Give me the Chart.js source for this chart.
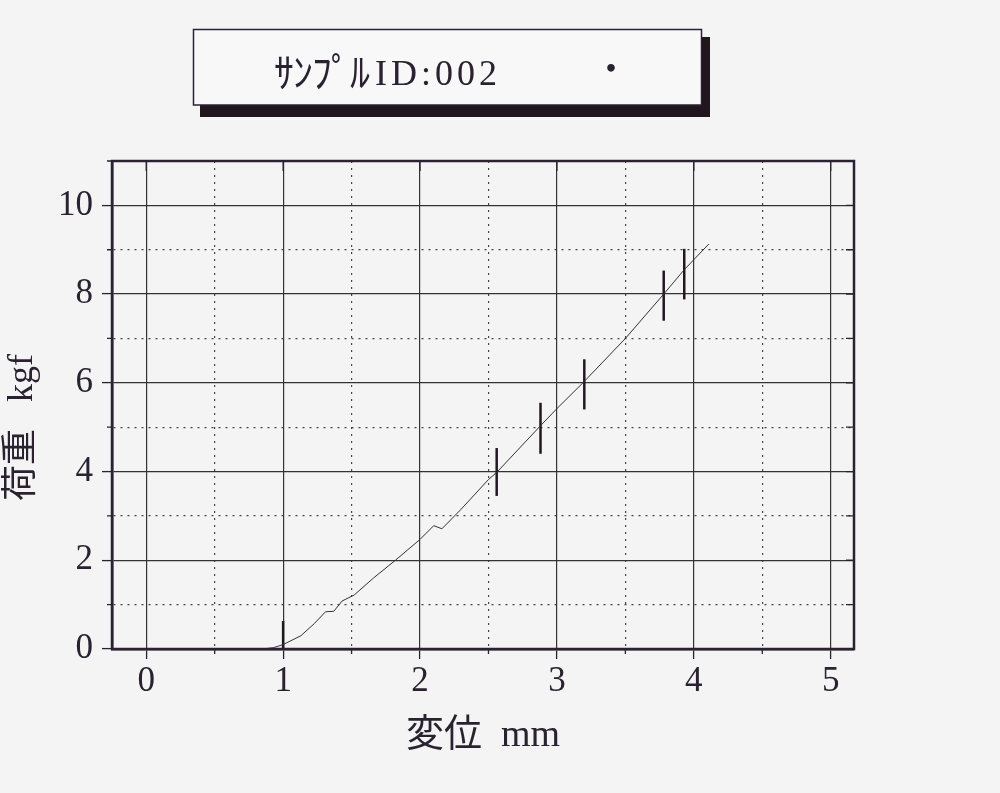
<!DOCTYPE html>
<html>
<head>
<meta charset="utf-8">
<script src="https://cdn.jsdelivr.net/npm/chart.js@4.4.0/dist/chart.umd.min.js"></script>
<style>
html,body{margin:0;padding:0;background:#f4f4f4;}
#wrap{width:1000px;height:793px;position:relative;}
</style>
</head>
<body>
<div id="wrap"><canvas id="c"></canvas></div>
<script>
// ---- text ----
const titleLabel = "ｻﾝﾌﾟﾙ";
const titleId = "ID:002";
const titleMark = "・";
const xAxisTitle = "変位  mm";
const yAxisTitle = "荷重   kgf     ";

// ---- load–displacement curve ----
const curveX = [0, 0.85, 0.93, 1.00, 1.13, 1.23, 1.31, 1.37, 1.43, 1.52, 1.66, 1.82, 2.00, 2.10, 2.16, 2.30, 2.50, 2.56, 2.87, 3.00, 3.19, 3.50, 3.78, 3.93, 4.11];
const curveY = [0, 0.00, 0.03, 0.10, 0.30, 0.58, 0.84, 0.85, 1.08, 1.22, 1.60, 2.00, 2.47, 2.78, 2.71, 3.15, 3.82, 3.98, 5.00, 5.42, 6.00, 7.00, 8.00, 8.55, 9.13];

// ---- vertical marker bars ----
const markerX    = [1.00, 2.56, 2.88, 3.20, 3.78, 3.93];
const markerLow  = [0.00, 3.45, 4.40, 5.40, 7.40, 7.88];
const markerHigh = [0.63, 4.53, 5.55, 6.53, 8.53, 9.02];

const ink = '#2a2230';
const gridInk = '#333333';
const isMajorX = v => Math.abs(v - Math.round(v)) < 1e-6;
const isMajorY = v => Math.abs(v / 2 - Math.round(v / 2)) < 1e-6;

const bgPlugin = {
  id: 'bg',
  beforeDraw(chart) {
    const c = chart.ctx;
    c.save();
    c.fillStyle = '#f4f4f4';
    c.fillRect(0, 0, chart.width, chart.height);
    c.restore();
  }
};

const titleBoxPlugin = {
  id: 'titleBox',
  afterDraw(chart) {
    const c = chart.ctx;
    c.save();
    // shadow
    c.fillStyle = '#22161e';
    c.fillRect(701, 37, 9, 80);
    c.fillRect(200, 105, 510, 12);
    // box
    c.fillStyle = '#f8f8f8';
    c.fillRect(193, 29, 509, 76);
    c.strokeStyle = ink;
    c.lineWidth = 1.5;
    c.strokeRect(193.5, 29.5, 508, 75.5);
    // text
    c.fillStyle = ink;
    c.textBaseline = 'alphabetic';
    c.textAlign = 'left';
    c.font = '40px "Noto Sans CJK JP", sans-serif';
    let x = 274;
    for (const ch of titleLabel) {
      c.fillText(ch, x, 87);
      x += c.measureText(ch).width - 1;
    }
    c.font = '36px "Liberation Serif", serif';
    x = 375;
    for (const ch of titleId) {
      c.fillText(ch, x, 85);
      x += c.measureText(ch).width + 4;
    }
    c.font = '36px "Noto Sans CJK JP", sans-serif';
    c.textAlign = 'center';
    c.textBaseline = 'middle';
    c.fillText(titleMark, 611, 68);
    c.restore();
  }
};

const framePlugin = {
  id: 'frame',
  afterDatasetsDraw(chart) {
    const c = chart.ctx;
    const a = chart.chartArea;
    const xs = chart.scales.x, ys = chart.scales.y;
    c.save();
    c.strokeStyle = ink;
    c.lineWidth = 1.3;
    c.beginPath();
    xs.ticks.forEach(t => {
      const px = xs.getPixelForValue(t.value);
      if (isMajorX(t.value)) {
        c.moveTo(px, a.top); c.lineTo(px, a.top + 10);
      } else {
        c.moveTo(px, a.bottom); c.lineTo(px, a.bottom + 5);
      }
    });
    ys.ticks.forEach(t => {
      const py = ys.getPixelForValue(t.value);
      c.moveTo(a.right, py); c.lineTo(a.right - 8, py);
      if (!isMajorY(t.value)) { c.moveTo(a.left, py); c.lineTo(a.left - 5, py); }
    });
    c.stroke();
    c.lineWidth = 2.5;
    c.strokeRect(a.left, a.top, a.right - a.left, a.bottom - a.top);
    c.restore();
  }
};

const datasets = [{
  data: curveX.map((x, i) => ({x: x, y: curveY[i]})),
  showLine: true, borderColor: '#333333', borderWidth: 1, pointRadius: 0, tension: 0
}].concat(markerX.map((x, i) => ({
  data: [{x: x, y: markerLow[i]}, {x: x, y: markerHigh[i]}],
  showLine: true, borderColor: '#201820', borderWidth: 2.5, pointRadius: 0, tension: 0
})));

const serif = '"Liberation Serif", "Noto Sans CJK JP", serif';

new Chart(document.getElementById('c'), {
  type: 'scatter',
  data: { datasets: datasets },
  options: {
    responsive: true,
    maintainAspectRatio: false,
    animation: false,
    layout: { padding: { top: 161, right: 146, left: 0, bottom: 0 } },
    plugins: { legend: { display: false }, tooltip: { enabled: false } },
    scales: {
      x: {
        type: 'linear', min: -0.25, max: 5.17,
        afterFit: s => { s.height = 144; },
        ticks: {
          stepSize: 0.5, includeBounds: false, autoSkip: false, maxRotation: 0, padding: 2,
          color: ink, font: { family: serif, size: 35 },
          callback: v => isMajorX(v) ? String(Math.round(v)) : ''
        },
        grid: {
          color: ctx => (ctx.tick && isMajorX(ctx.tick.value)) ? gridInk : '#444444',
          lineWidth: 1.2, tickLength: 10,
          tickColor: ctx => (ctx.tick && isMajorX(ctx.tick.value)) ? ink : 'rgba(0,0,0,0)', tickWidth: 1.3
        },
        border: { display: true, color: ink, width: 2.5,
          dash: ctx => (ctx.tick && !isMajorX(ctx.tick.value)) ? [2, 5] : [] },
        title: { display: true, text: xAxisTitle, color: ink,
          font: { family: serif, size: 38 }, padding: { top: 0, bottom: 34 } }
      },
      y: {
        type: 'linear', min: 0, max: 11,
        afterFit: s => { s.width = 112; },
        ticks: {
          stepSize: 1, includeBounds: false, autoSkip: false, padding: 9,
          color: ink, font: { family: serif, size: 35 },
          callback: v => isMajorY(v) ? String(Math.round(v)) : ''
        },
        grid: {
          color: ctx => (ctx.tick && isMajorY(ctx.tick.value)) ? gridInk : '#444444',
          lineWidth: 1.2, tickLength: 10,
          tickColor: ctx => (ctx.tick && isMajorY(ctx.tick.value)) ? ink : 'rgba(0,0,0,0)', tickWidth: 1.3
        },
        border: { display: true, color: ink, width: 2.5,
          dash: ctx => (ctx.tick && !isMajorY(ctx.tick.value)) ? [2, 5] : [] },
        title: { display: true, text: yAxisTitle, color: ink,
          font: { family: serif, size: 36 }, padding: { top: 1, bottom: 0 } }
      }
    }
  },
  plugins: [bgPlugin, titleBoxPlugin, framePlugin]
});
</script>
</body>
</html>
